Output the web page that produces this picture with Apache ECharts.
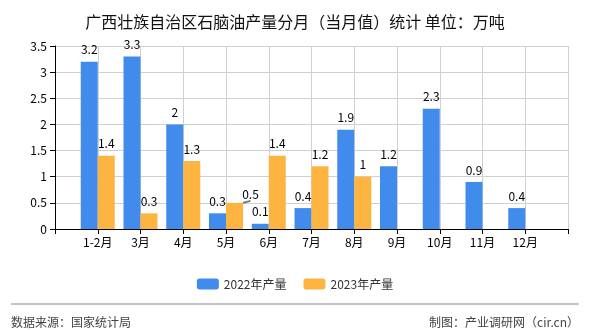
<!DOCTYPE html>
<html>
<head>
<meta charset="utf-8">
<script src="https://cdn.jsdelivr.net/npm/echarts@6/dist/echarts.min.js"></script>
<style>html,body{margin:0;padding:0;background:#fff}#c{width:590px;height:330px}</style>
</head>
<body>
<div id="c"></div>
<script>
var categories = ['1-2月','3月','4月','5月','6月','7月','8月','9月','10月','11月','12月'];
var values2022 = [3.2,3.3,2,0.3,0.1,0.4,1.9,1.2,2.3,0.9,0.4];
var values2023 = [1.4,0.3,1.3,0.5,1.4,1.2,1,null,null,null,null];
var seriesNames = ['2022年产量','2023年产量'];
var yTicks = {min:0, max:3.5, interval:0.5};
var movedLabelIndex = 3; // 5月 2023 label is shifted with a guide line

var axisData = [''].concat(categories).concat(['']);
function pad(arr){ return [null].concat(arr).concat([null]); }

var font = '"Noto Sans CJK SC", "Noto Sans", sans-serif';
var data2023 = pad(values2023).map(function(v, i){
  if (i === movedLabelIndex + 1) {
    return {value:v, labelLine:{show:true,lineStyle:{color:'#777',width:2}}};
  }
  return v;
});

var chart = echarts.init(document.getElementById('c'));
chart.setOption({
  animation:false,
  textStyle:{fontFamily:font},
  title:{text:'广西壮族自治区石脑油产量分月（当月值）统计 单位：万吨',left:'center',top:9,
    textStyle:{fontSize:16,fontWeight:'normal',color:'#111',fontFamily:font}},
  grid:{left:55,right:22,top:46,bottom:101},
  legend:{data:seriesNames,left:'center',top:273,itemWidth:22,itemHeight:11,itemGap:17,
    textStyle:{fontSize:12,color:'#333'}},
  xAxis:{type:'category',data:axisData,boundaryGap:false,
    axisLine:{lineStyle:{color:'#000'}},
    axisTick:{show:true,interval:0,length:5,lineStyle:{color:'#000'}},
    axisLabel:{interval:0,color:'#000',fontSize:12,margin:7},
    splitLine:{show:true,interval:0,lineStyle:{color:'#d0d0d0'}}},
  yAxis:{type:'value',min:yTicks.min,max:yTicks.max,interval:yTicks.interval,
    axisLine:{show:true,lineStyle:{color:'#000'}},
    axisTick:{show:true,length:5,lineStyle:{color:'#000'}},
    axisLabel:{color:'#000',fontSize:12,margin:8},
    splitLine:{show:true,lineStyle:{color:'#d0d0d0'}}},
  series:[
    {name:seriesNames[0],type:'bar',data:pad(values2022),barWidth:17,barGap:'0%',
      itemStyle:{color:'#418BEC'},
      label:{show:true,position:'top',color:'#000',fontSize:12,distance:6}},
    {name:seriesNames[1],type:'bar',data:data2023,barWidth:17,barGap:'0%',
      itemStyle:{color:'#FDB441'},
      label:{show:true,position:'top',color:'#000',fontSize:12,distance:6},
      labelLine:{show:false},
      labelLayout:function(p){ if(p.dataIndex===movedLabelIndex+1){ return {dx:16,dy:4}; } return {}; }}
  ],
  graphic:[
    {type:'line',shape:{x1:11,y1:304,x2:579,y2:304},style:{stroke:'#888',lineWidth:1}},
    {type:'text',left:11,top:316,style:{text:'数据来源：国家统计局',fill:'#444',font:'12px '+font}},
    {type:'text',right:11,top:316,style:{text:'制图：产业调研网（cir.cn）',fill:'#444',font:'12px '+font}}
  ]
});
</script>
</body>
</html>
